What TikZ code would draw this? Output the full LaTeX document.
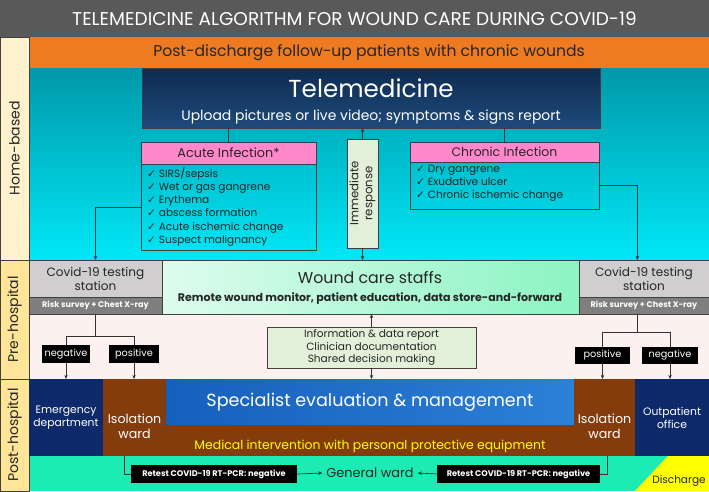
\documentclass[tikz,border=0pt]{standalone}
\usepackage{fontspec}
\setmainfont{Poppins}
\newfontfamily\symfont{DejaVu Sans}
\usetikzlibrary{arrows.meta,fit,positioning}

\definecolor{titlegray}{HTML}{595959}
\definecolor{stripHome}{HTML}{FFF2CC}
\definecolor{stripHosp}{HTML}{FFE597}
\definecolor{bandorange}{HTML}{EE7B22}
\definecolor{tealtop}{HTML}{0098A9}
\definecolor{cyanbot}{HTML}{00E8F7}
\definecolor{navytop}{HTML}{0E2B50}
\definecolor{navybot}{HTML}{1E4A7A}
\definecolor{pinkhead}{HTML}{FF88CC}
\definecolor{sagebox}{HTML}{E2EFD9}
\definecolor{covgray}{HTML}{D0CECE}
\definecolor{riskgray}{HTML}{7F7F7F}
\definecolor{mintleft}{HTML}{DDFCEE}
\definecolor{mintright}{HTML}{8CF4C2}
\definecolor{prepink}{HTML}{FCF1EE}
\definecolor{deptnavy}{HTML}{0F2A6B}
\definecolor{wardbrown}{HTML}{843C0C}
\definecolor{specleft}{HTML}{1560BD}
\definecolor{specright}{HTML}{2C80D6}
\definecolor{aqua}{HTML}{1DEBB4}
\definecolor{ppeyellow}{HTML}{FFFF00}
\definecolor{inktext}{HTML}{262626}

\newcommand{\chk}{{\symfont\char"2713}\ }

\tikzset{
  area/.style={inner sep=0pt, outer sep=0pt},
  frame/.style={area, draw=black!75, line width=0.5pt},
  tag/.style={area, fill=black},
  tagtext/.style={text=white, inner sep=0pt, font=\fontsize{8.3}{10}\selectfont},
  link/.style={draw=black!80, line width=0.6pt},
  arr/.style={link, -{Stealth[length=3.5pt,width=3pt]}},
}

\begin{document}
\begin{tikzpicture}[x=0.03cm, y=-0.03cm, text=inktext]
\useasboundingbox (0,0) rectangle (709,491);

% header and bands
\node[area, fill=titlegray, fit={(0,0) (709,37)}] (title) {};
\node[text=white, font=\fontsize{15.8}{18}\selectfont] at (title.center) (titleText) {TELEMEDICINE ALGORITHM FOR WOUND CARE DURING COVID-19};
\node[area, fill=bandorange, fit={(29,37) (709,68)}] (followup) {};
\node[font=\fontsize{13.3}{15}\selectfont] at (followup.center) (followupText) {Post-discharge follow-up patients with chronic wounds};
\node[area, top color=tealtop, bottom color=cyanbot, fit={(29,68) (709,260)}] (homeArea) {};
\node[area, fill=prepink, fit={(29,314) (709,379)}] (preArea) {};
\node[area, fill=aqua, fit={(29,456) (709,491)}] (wardBand) {};
\fill[ppeyellow] (635,491) -- (668,456) -- (709,456) -- (709,491) -- cycle;
\node[font=\fontsize{9}{11}\selectfont] at (679,481) (discharge) {Discharge};

% side strip
\node[frame, fill=stripHome, fit={(0,37) (29,260)}] (homeStrip) {};
\node[frame, fill=stripHosp, fit={(0,260) (29,379)}] (preStrip) {};
\node[frame, fill=stripHosp, fit={(0,379) (29,491)}] (postStrip) {};
\node[rotate=90, font=\fontsize{12}{14}\selectfont] at (homeStrip.center) (homeLabel) {Home-based};
\node[rotate=90, font=\fontsize{12}{14}\selectfont] at (preStrip.center) (preLabel) {Pre-hospital};
\node[rotate=90, font=\fontsize{12}{14}\selectfont] at (postStrip.center) (postLabel) {Post-hospital};

% home-based
\node[frame, top color=navytop, bottom color=navybot, fit={(142,68) (600,128)}] (tele) {};
\node[text=white, font=\fontsize{21}{24}\selectfont] at (371,88) (teleTitle) {Telemedicine};
\node[text=white, font=\fontsize{11.9}{13}\selectfont] at (371,117) (teleSub) {Upload pictures or live video; symptoms \& signs report};

\node[frame, fill=pinkhead, fit={(141,142) (316,164)}] (acuteHead) {};
\node[font=\fontsize{10.9}{12}\selectfont] at (acuteHead.center) (acuteTitle) {Acute Infection*};
\node[frame, fit={(141,164) (316,250)}] (acuteList) {};
\node[anchor=north west, align=left, inner sep=0pt, font=\fontsize{9}{11.3}\selectfont] at (147,167) (acuteItems)
  {\chk SIRS/sepsis\\\chk Wet or gas gangrene\\\chk Erythema\\\chk abscess formation\\\chk Acute ischemic change\\\chk Suspect malignancy};

\node[frame, fill=pinkhead, fit={(410,142) (599,162)}] (chronHead) {};
\node[font=\fontsize{10.6}{12}\selectfont] at (chronHead.center) (chronTitle) {Chronic Infection};
\node[frame, fit={(410,162) (599,209)}] (chronList) {};
\node[anchor=north west, align=left, inner sep=0pt, font=\fontsize{9}{11}\selectfont] at (416,165) (chronItems)
  {\chk Dry gangrene\\\chk Exudative ulcer\\\chk Chronic ischemic change};

\node[frame, fill=sagebox, fit={(347,139) (378,248)}] (immBox) {};
\node[rotate=90, align=center, font=\fontsize{10}{12}\selectfont] at (immBox.center) (immText) {Immediate\\response};

% pre-hospital
\node[frame, fill=covgray, fit={(29,260) (162,297)}] (covL) {};
\node[align=center, font=\fontsize{10.3}{12}\selectfont] at (covL.center) (covLtext) {Covid-19 testing\\station};
\node[frame, fill=riskgray, fit={(29,297) (162,314)}] (riskL) {};
\node[text=white, font=\bfseries\fontsize{6.9}{8}\selectfont] at (riskL.center) (riskLtext) {Risk survey + Chest X-ray};
\node[frame, fill=covgray, fit={(579,260) (709,297)}] (covR) {};
\node[align=center, font=\fontsize{10.3}{12}\selectfont] at (covR.center) (covRtext) {Covid-19 testing\\station};
\node[frame, fill=riskgray, fit={(579,297) (709,314)}] (riskR) {};
\node[text=white, font=\bfseries\fontsize{6.9}{8}\selectfont] at (riskR.center) (riskRtext) {Risk survey + Chest X-ray};

\node[frame, left color=mintleft, right color=mintright, fit={(162,260) (579,314)}] (staff) {};
\node[font=\fontsize{13.5}{15}\selectfont] at (370,278) (staffTitle) {Wound care staffs};
\node[font=\bfseries\fontsize{9.4}{11}\selectfont] at (370,299) (staffSub) {Remote wound monitor, patient education, data store-and-forward};

\node[frame, fill=sagebox, fit={(267,327) (476,368)}] (info) {};
\node[align=center, font=\fontsize{9}{10.7}\selectfont] at (info.center) (infoText)
  {Information \& data report\\Clinician documentation\\Shared decision making};

\node[tag, fit={(42,345) (90,363)}] (negL) {};
\node[tagtext] at (negL.center) (negLtext) {negative};
\node[tag, fit={(109,345) (159,363)}] (posL) {};
\node[tagtext] at (posL.center) (posLtext) {positive};
\node[tag, fit={(575,347) (630,364)}] (posR) {};
\node[tagtext] at (posR.center) (posRtext) {positive};
\node[tag, fit={(642,347) (698,364)}] (negR) {};
\node[tagtext] at (negR.center) (negRtext) {negative};

% post-hospital
\node[area, fill=deptnavy, fit={(29,379) (103,456)}] (emerg) {};
\node[text=white, align=center, font=\fontsize{9.2}{11}\selectfont] at (emerg.center) (emergText) {Emergency\\department};
\node[area, fill=wardbrown, fit={(103,379) (166,456)}] (isoL) {};
\node[text=white, align=center, font=\fontsize{10.8}{12.5}\selectfont] at (134.5,426) (isoLtext) {Isolation\\ward};
\node[area, left color=specleft, right color=specright, fit={(166,379) (574,425)}] (spec) {};
\node[text=white, font=\fontsize{15}{17}\selectfont] at (spec.center) (specText) {Specialist evaluation \& management};
\node[area, fill=wardbrown, fit={(166,425) (574,456)}] (ppe) {};
\node[text=ppeyellow, font=\fontsize{10.6}{12}\selectfont] at (370,446) (ppeText) {Medical intervention with personal protective equipment};
\node[area, fill=wardbrown, fit={(574,379) (635,456)}] (isoR) {};
\node[text=white, align=center, font=\fontsize{10.8}{12.5}\selectfont] at (604.5,426) (isoRtext) {Isolation\\ward};
\node[area, fill=deptnavy, fit={(635,379) (709,456)}] (outpat) {};
\node[text=white, align=center, font=\fontsize{9.2}{11}\selectfont] at (outpat.center) (outpatText) {Outpatient\\office};

\node[tag, fit={(131,465) (297,483)}] (retestL) {};
\node[tagtext, font=\bfseries\fontsize{7}{8}\selectfont] at (retestL.center) (retestLtext) {Retest COVID-19 RT-PCR: negative};
\node[tag, fit={(437,465) (600,483)}] (retestR) {};
\node[tagtext, font=\bfseries\fontsize{7}{8}\selectfont] at (retestR.center) (retestRtext) {Retest COVID-19 RT-PCR: negative};
\node[font=\fontsize{11}{13}\selectfont] at (370,473) (general) {General ward};

% connectors
\draw[link] (tele.south -| acuteHead.north) -- (acuteHead.north);
\draw[link] (tele.south -| chronHead.north) -- (chronHead.north);
\draw[arr] (immBox.north) -- (immBox.north |- tele.south);
\draw[arr] (immBox.south) -- (immBox.south |- staff.north);
\draw[arr] (acuteList.west) -| (covL.north);
\draw[arr] (chronList.east) -| ([xshift=-2mm]covR.north);
\draw[arr] (info.north) -- (info.north |- staff.south);
\draw[arr] (info.south) -- (info.south |- spec.north);

\coordinate (splitL) at (riskL.south |- 0,336);
\draw[link] (riskL.south) -- (splitL);
\draw[link] (negL.north) |- (splitL) -| (posL.north);
\draw[arr] (negL.south) -- (negL.south |- emerg.north);
\draw[arr] (posL.south) -- (posL.south |- isoL.north);

\coordinate (splitR) at ([xshift=-2mm]riskR.south |- 0,332);
\draw[link] ([xshift=-2mm]riskR.south) -- (splitR);
\draw[link] (posR.north) |- (splitR) -| (negR.north);
\draw[arr] (posR.south) -- (posR.south |- isoR.north);
\draw[arr] (negR.south) -- (negR.south |- outpat.north);

\draw[link] ([xshift=-3mm]isoL.south) |- (retestL.west);
\draw[link] ([xshift=1mm]isoR.south) |- (retestR.east);
\draw[arr] (retestL.east) -- (general.west);
\draw[arr] (retestR.west) -- (general.east);
\end{tikzpicture}
\end{document}
